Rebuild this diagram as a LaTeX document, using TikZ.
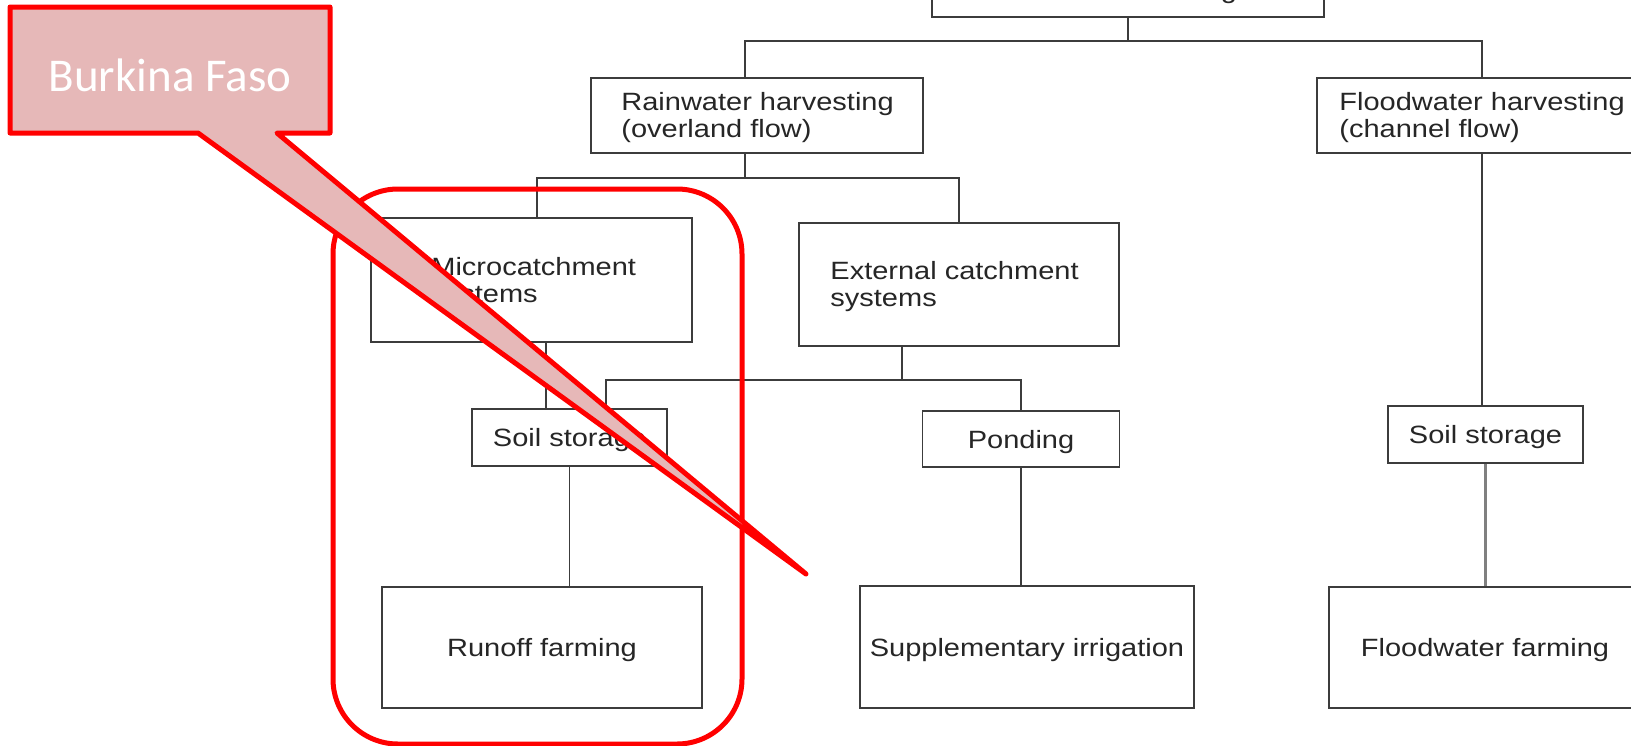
\documentclass[tikz,border=0pt]{standalone}
\usepackage{fontspec}
\newfontfamily\boxfont{Liberation Sans}[FakeStretch=1.16]
\newfontfamily\calloutfont{Carlito}
\usepackage{tikz}
\usetikzlibrary{positioning}

\definecolor{boxline}{RGB}{60,60,60}
\definecolor{calloutfill}{RGB}{230,184,184}

\begin{document}
\begin{tikzpicture}[x=1pt, y=-1pt, inner sep=0pt]
    \tikzstyle{box}=[rectangle, draw=boxline, line width=1.6pt, fill=white, text=black!85, text height=20pt, text depth=2pt, font=\boxfont\fontsize{25}{27}\selectfont]
    \tikzstyle{lbl}=[align=left, text=black!85, yshift=-2.5pt, font=\boxfont\fontsize{25}{27}\selectfont]
    \tikzstyle{link}=[draw=boxline, line width=1.4pt]
    \tikzstyle{ring}=[draw=red, line width=5pt, rounded corners=65pt]
    \tikzstyle{callout}=[fill=calloutfill, draw=red, line width=5pt, line join=round]

    \useasboundingbox (0,0) rectangle (1631,745);
    \clip (0,0) rectangle (1631,745);
    \fill[white] (0,0) rectangle (1631,745);

    % boxes
    \node[box, minimum width=392, minimum height=55] (top) at (1128,-10.5) {Water harvesting};
    \node[box, minimum width=332, minimum height=75] (rain) at (757,115.5) {};
    \node[box, minimum width=330, minimum height=75] (flood) at (1482,115.5) {};
    \node[box, minimum width=321, minimum height=124] (micro) at (531.5,280) {};
    \node[box, minimum width=320, minimum height=123] (ext) at (959,284.5) {};
    \node[box, minimum width=195, minimum height=57] (soilL) at (569.5,437.5) {Soil storage};
    \node[box, minimum width=197, minimum height=56] (pond) at (1021,439) {Ponding};
    \node[box, minimum width=195, minimum height=57] (soilR) at (1485.5,434.5) {Soil storage};
    \node[box, minimum width=320, minimum height=121] (runoff) at (542,647.5) {Runoff farming};
    \node[box, minimum width=334, minimum height=122] (supp) at (1027,647) {Supplementary irrigation};
    \node[box, minimum width=312, minimum height=121] (farmR) at (1485,647.5) {Floodwater farming};

    \node[lbl, right=31pt of rain.west] (raintxt) {Rainwater harvesting\\(overland flow)};
    \node[lbl, right=23pt of flood.west] (floodtxt) {Floodwater harvesting\\(channel flow)};
    \node[lbl, right=61pt of micro.west] (microtxt) {Microcatchment\\systems};
    \node[lbl, right=32pt of ext.west] (exttxt) {External catchment\\systems};

    % connectors
    \coordinate (j0) at (1128,41);
    \coordinate (j1) at (745,178);
    \coordinate (j2) at (902,380);
    \draw[link] (top.south) -- (j0);
    \draw[link] (j0) -| (rain.north -| j1);
    \draw[link] (j0) -| (flood.north);
    \draw[link] (rain.south -| j1) -- (j1);
    \draw[link] (j1) -| ([xshift=5.5pt]micro.north);
    \draw[link] (j1) -| (ext.north);
    \draw[link] ([xshift=14.5pt]micro.south) -- ([xshift=14.5pt]micro.south |- soilL.north);
    \draw[link] (ext.south -| j2) -- (j2);
    \draw[link] (j2) -| (pond.north);
    \draw[link] (j2) -| ([xshift=36.5pt]soilL.north);
    \draw[link] (soilL.south) -- (soilL.south |- runoff.north);
    \draw[link] (pond.south) -- (pond.south |- supp.north);
    \draw[link] (flood.south) -- (flood.south |- soilR.north);
    \draw[link, draw=gray, line width=2.4pt] (soilR.south) -- (soilR.south |- farmR.north);

    % highlight and callout
    \draw[ring] (333,189) rectangle (742,744);
    \draw[callout] (10,7) -- (330,7) -- (330,133) -- (277,133) -- (806,574) -- (198,133) -- (10,133) -- cycle;
    \node[text=white, font=\calloutfont\fontsize{47}{52}\selectfont] (burkina) at (170,75) {Burkina Faso};
\end{tikzpicture}
\end{document}
